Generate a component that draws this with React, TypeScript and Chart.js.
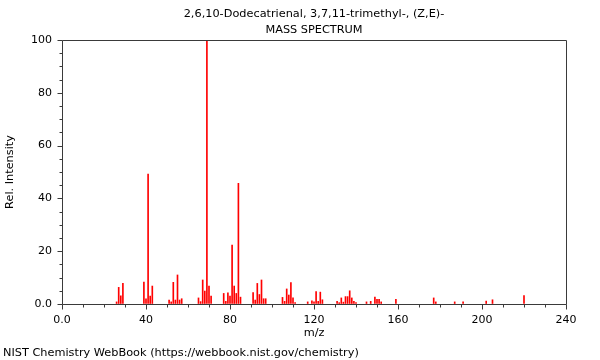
import { useEffect, useRef } from "react";
import { Chart, registerables } from "chart.js";

Chart.register(...registerables);

const TITLE_LINES = ["2,6,10-Dodecatrienal, 3,7,11-trimethyl-, (Z,E)-", "MASS SPECTRUM"];
const FOOTER = "NIST Chemistry WebBook (https://webbook.nist.gov/chemistry)";
const X_LABEL = "m/z";
const Y_LABEL = "Rel. Intensity";

const mzValues = [
  26, 27, 28, 29, 39, 40, 41, 42, 43, 51, 52, 53, 54, 55, 56, 57,
  65, 66, 67, 68, 69, 70, 71, 77, 78, 79, 80, 81, 82, 83, 84, 85,
  91, 92, 93, 94, 95, 96, 97, 105, 106, 107, 108, 109, 110, 111,
  117, 119, 120, 121, 122, 123, 124, 131, 132, 133, 134, 135, 136, 137, 138, 139, 140,
  145, 147, 149, 150, 151, 152, 159, 177, 178, 187, 191, 202, 205, 220,
];
const intensities = [
  0.8, 6.3, 3.1, 7.8, 8.3, 2.0, 49.2, 3.0, 6.8, 1.5, 0.8, 8.2, 1.5, 11.0, 1.5, 2.0,
  2.3, 0.9, 9.1, 4.9, 100, 6.8, 3.0, 4.0, 1.0, 4.2, 3.0, 22.3, 6.8, 4.0, 45.7, 2.6,
  4.3, 1.5, 7.8, 3.6, 9.1, 2.0, 2.0, 2.5, 1.0, 5.7, 3.4, 8.1, 2.3, 0.5,
  0.8, 1.2, 0.8, 4.7, 1.0, 4.5, 1.6, 1.0, 0.5, 2.3, 0.7, 2.8, 2.8, 5.0, 2.3, 1.0, 0.5,
  0.8, 1.0, 2.6, 1.8, 1.8, 0.8, 1.8, 2.3, 0.8, 0.8, 0.8, 1.1, 1.6, 3.2,
];

const X_MIN = 0;
const X_MAX = 240;
const X_MAJOR = 40;
const X_MINOR = 10;
const Y_MIN = 0;
const Y_MAX = 100;
const Y_MAJOR = 20;
const Y_MINOR = 5;

const FONT = "'DejaVu Sans', sans-serif";
const FRAME_COLOR = "#3a3a3a";
const BAR_COLOR = "rgb(255,0,0)";

const fmt = (v: number) => (v === 0 ? "0.0" : String(v));

export default function App() {
  const ref = useRef<HTMLCanvasElement>(null);

  useEffect(() => {
    const canvas = ref.current;
    if (!canvas) return;

    const textPlugin = {
      id: "nistDecor",
      afterDraw(chart: any) {
        const { ctx, chartArea: a, scales } = chart;
        const xs = scales.x;
        const ys = scales.y;
        ctx.save();
        ctx.strokeStyle = FRAME_COLOR;
        ctx.lineWidth = 1;
        const L = Math.round(a.left) + 0.5;
        const T = Math.round(a.top) + 0.5;
        const R = Math.round(a.right) + 0.5;
        const B = Math.round(a.bottom) + 0.5;
        ctx.beginPath();
        ctx.moveTo(L, T);
        ctx.lineTo(R, T);
        ctx.lineTo(R, B);
        ctx.lineTo(L, B);
        ctx.closePath();
        ctx.stroke();

        ctx.beginPath();
        for (let v = X_MIN; v <= X_MAX; v += X_MINOR) {
          const px = Math.round(xs.getPixelForValue(v)) + 0.5;
          const len = v % X_MAJOR === 0 ? 5 : 3;
          ctx.moveTo(px, B);
          ctx.lineTo(px, B + len);
        }
        for (let v = Y_MIN; v <= Y_MAX; v += Y_MINOR) {
          const py = Math.round(ys.getPixelForValue(v)) + 0.5;
          const len = v % Y_MAJOR === 0 ? 5 : 3;
          ctx.moveTo(L, py);
          ctx.lineTo(L - len, py);
        }
        ctx.stroke();

        ctx.fillStyle = "#000";
        ctx.font = `11.3px ${FONT}`;
        ctx.textAlign = "center";
        ctx.textBaseline = "middle";
        const cx = (a.left + a.right) / 2;
        ctx.fillText(TITLE_LINES[0], cx, 14);
        ctx.fillText(TITLE_LINES[1], cx, 30);
        ctx.fillText(X_LABEL, cx, 333);
        ctx.textAlign = "left";
        ctx.fillText(FOOTER, 3, 353);
        ctx.save();
        ctx.translate(10, (a.top + a.bottom) / 2);
        ctx.rotate(-Math.PI / 2);
        ctx.textAlign = "center";
        ctx.fillText(Y_LABEL, 0, 0);
        ctx.restore();
        ctx.restore();
      },
    };

    const chart = new Chart(canvas, {
      type: "bar",
      data: {
        datasets: [
          {
            data: mzValues.map((m, i) => ({ x: m, y: intensities[i] })),
            backgroundColor: BAR_COLOR,
            borderWidth: 0,
            barThickness: 1,
          },
        ],
      },
      options: {
        animation: false,
        responsive: false,
        maintainAspectRatio: false,
        layout: { padding: { top: 40, right: 34, left: 0, bottom: 0 } },
        plugins: {
          legend: { display: false },
          title: { display: false },
          tooltip: { enabled: false },
        },
        scales: {
          x: {
            type: "linear",
            min: X_MIN,
            max: X_MAX,
            offset: false,
            border: { display: false },
            grid: { display: true, drawOnChartArea: false, drawTicks: false, offset: false, color: "rgba(0,0,0,0)" },
            ticks: {
              stepSize: X_MINOR,
              autoSkip: false,
              maxRotation: 0,
              padding: 10,
              color: "#000",
              font: { family: FONT, size: 11 },
              callback: (v: any) => (Number(v) % X_MAJOR === 0 ? fmt(Number(v)) : ""),
            },
            afterFit: (s: any) => {
              s.height = 56;
            },
          },
          y: {
            type: "linear",
            min: Y_MIN,
            max: Y_MAX,
            border: { display: false },
            grid: { display: true, drawOnChartArea: false, drawTicks: false, color: "rgba(0,0,0,0)" },
            ticks: {
              stepSize: Y_MINOR,
              autoSkip: false,
              padding: 10,
              color: "#000",
              font: { family: FONT, size: 11 },
              callback: (v: any) => (Number(v) % Y_MAJOR === 0 ? fmt(Number(v)) : ""),
            },
            afterFit: (s: any) => {
              s.width = 62;
            },
          },
        },
      },
      plugins: [textPlugin],
    });

    return () => chart.destroy();
  }, []);

  return (
    <div style={{ position: "fixed", left: 0, top: 0, width: 600, height: 360, background: "#fff" }}>
      <canvas ref={ref} width={600} height={360} style={{ display: "block", width: 600, height: 360 }} />
    </div>
  );
}
